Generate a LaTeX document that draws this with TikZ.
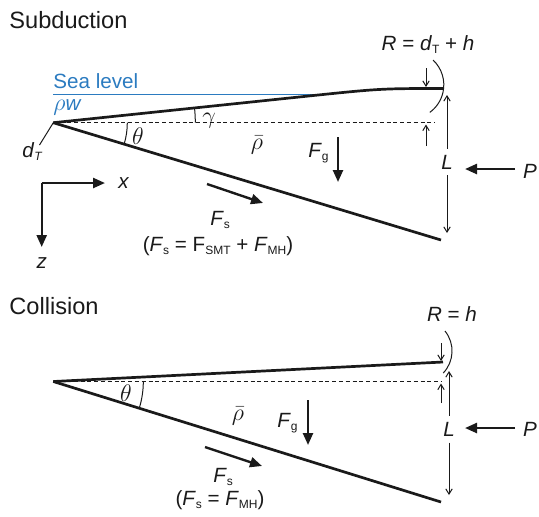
\documentclass[tikz,border=0pt]{standalone}
\usepackage{fontspec}
\setmainfont{Liberation Sans}
\usepackage{amsmath}
\usetikzlibrary{arrows.meta,positioning}
\definecolor{cSea}{HTML}{2B7BC0}
\definecolor{cInk}{HTML}{1A1A1A}
\newcommand{\lsub}[1]{\raisebox{-0.35ex}{\fontsize{6}{7}\selectfont #1}}
\newcommand{\vF}{\textit{F}}
\tikzset{
  wedge/.style={line width=1.35pt, cInk, line join=round},
  sealine/.style={line width=0.7pt, cSea},
  refline/.style={line width=0.45pt, cInk, dash pattern=on 2pt off 1.4pt},
  force/.style={-{Triangle[length=6pt,width=5pt]}, line width=1.2pt, cInk},
  dim/.style={-{Straight Barb[length=2.6pt,width=3.2pt]}, line width=0.5pt, cInk},
  thin/.style={line width=0.5pt, cInk},
  lbl/.style={font=\fontsize{10.3}{12}\selectfont, text=cInk, inner sep=0pt},
  grk/.style={lbl, font=\fontsize{13}{15}\selectfont},
  dimlbl/.style={lbl, inner sep=3pt},
  ttl/.style={font=\fontsize{11.8}{14}\selectfont, text=cInk, inner sep=0pt, anchor=base west}
}

\begin{document}
\begin{tikzpicture}[x=0.5pt, y=-0.5pt]
\useasboundingbox (0,0) rectangle (539,516);
% ----- Subduction panel -----
\node[ttl] (ls) at (9,28) {Subduction};
\node[lbl, text=cSea, anchor=base west] (sea) at (53,88) {Sea level};
\node[lbl, text=cSea, anchor=base west] (rw) at (53,110) {{\fontsize{12.5}{14}\selectfont$\rho$}\textit{w}};
\coordinate (sa) at (53.3,122.7);
\coordinate (st) at (443,88.5);
\coordinate (sb) at (441,240);
\draw[sealine] (53,94.5) -- (325,94.5);
\draw[wedge] (sa) -- (300,96.9) .. controls (380,88.5) .. (st);
\draw[wedge] (sa) -- (sb);
\draw[refline] (sa) -- (435,122.7);
\draw[thin] (sa) -- (39.5,145);
\node[lbl, anchor=base west] (sdT) at (22,157) {\textit{d}\lsub{\textit{T}}};
\draw[thin] (195.3,122.7) arc[start angle=0, end angle=-6, radius=142];
\node[grk] (gam) at (209,121) {$\gamma$};
\draw[thin] (127.3,122.7) arc[start angle=0, end angle=16.8, radius=74];
\node[grk] (sth) at (138,136) {$\theta$};
\node[grk] (srho) at (257,145) {$\bar{\rho}$};
% forces
\node[lbl, anchor=base west] (sFg) at (308,157) {\vF\lsub{g}};
\coordinate (sg1) at (338,137); \coordinate (sg2) at (338,182);
\draw[force] (sg1) -- (sg2);
\coordinate (ss1) at (207,184); \coordinate (ss2) at (263,203);
\draw[force] (ss1) -- (ss2);
\node[lbl, anchor=base west] (sFs) at (210,225) {\vF\lsub{s}};
\node[lbl, anchor=base] (seq) at (218,251) {(\vF\lsub{s} = F\lsub{SMT} + \vF\lsub{MH})};
% axes
\coordinate (ax) at (41.7,183);
\coordinate (axx) at (105,183);
\coordinate (axz) at (41.7,247);
\draw[force] (ax) -- (axx);
\draw[force] (ax) -- (axz);
\node[lbl, right=6.5pt of axx] (xl) {\textit{x}};
\node[lbl, below=5pt of axz] (zl) {\textit{z}};
% right end
\node[lbl, anchor=base] (sR) at (428,50) {\textit{R} = \textit{d}\lsub{T} + \textit{h}};
\draw[thin] (433,60) arc[start angle=-47, end angle=54, radius=34];
\coordinate (sd1) at (426,68); \coordinate (sd2) at (426,87);
\coordinate (su1) at (426,146); \coordinate (su2) at (426,124.5);
\draw[dim] (sd1) -- (sd2);
\draw[dim] (su1) -- (su2);
\node[dimlbl] (sL) at (447,162) {\textit{L}};
\coordinate (sLt) at (447,95); \coordinate (sLb) at (447,233);
\draw[dim] (sL) -- (sLt);
\draw[dim] (sL) -- (sLb);
\node[lbl] (sP) at (530,171) {\textit{P}};
\coordinate (sPe) at (465,169);
\draw[force] (515,169) -- (sPe);
% ----- Collision panel -----
\node[ttl] (lc) at (9,314) {Collision};
\coordinate (ca) at (53.3,381.5);
\coordinate (ct) at (443,362);
\coordinate (cb) at (441,502);
\draw[wedge] (ca) -- (ct);
\draw[wedge] (ca) -- (cb);
\draw[refline] (ca) -- (442,381.5);
\draw[thin] (143.3,381.5) arc[start angle=0, end angle=17.2, radius=90];
\node[grk] (cth) at (126,393) {$\theta$};
\node[grk] (crho) at (238,416) {$\bar{\rho}$};
% forces
\node[lbl, anchor=base west] (cFg) at (277,427) {\vF\lsub{g}};
\coordinate (cg1) at (308,400); \coordinate (cg2) at (308,445);
\draw[force] (cg1) -- (cg2);
\coordinate (cs1) at (205,447); \coordinate (cs2) at (262,466);
\draw[force] (cs1) -- (cs2);
\node[lbl, anchor=base west] (cFs) at (213,482) {\vF\lsub{s}};
\node[lbl, anchor=base] (ceq) at (220,505) {(\vF\lsub{s} = \vF\lsub{MH})};
% right end
\node[lbl, anchor=base] (cR) at (452,321) {\textit{R} = \textit{h}};
\draw[thin] (445,331) arc[start angle=-38.7, end angle=43.7, radius=32];
\coordinate (cd1) at (441,343); \coordinate (cd2) at (441,361);
\coordinate (cu1) at (441,403); \coordinate (cu2) at (441,383.5);
\draw[dim] (cd1) -- (cd2);
\draw[dim] (cu1) -- (cu2);
\node[dimlbl] (cL) at (449,429) {\textit{L}};
\coordinate (cLt) at (449,371); \coordinate (cLb) at (449,495);
\draw[dim] (cL) -- (cLt);
\draw[dim] (cL) -- (cLb);
\node[lbl] (cP) at (530,429) {\textit{P}};
\coordinate (cPe) at (465,428);
\draw[force] (515,428) -- (cPe);
\end{tikzpicture}
\end{document}
